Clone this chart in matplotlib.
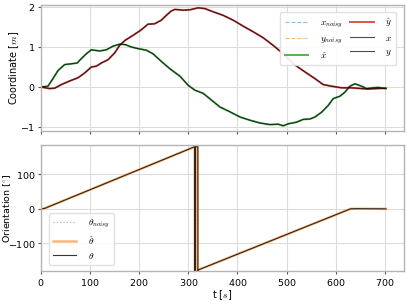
import numpy as np
import matplotlib
matplotlib.use("Agg")
import matplotlib.pyplot as plt

plt.rcParams['mathtext.fontset'] = 'cm'
plt.rcParams['axes.formatter.use_mathtext'] = True
plt.rcParams['font.family'] = ['DejaVu Sans']

# ---- data: position ----
t_x = [0, 14.2, 24.4, 34.6, 48.2, 61.7, 73.9, 82.1, 92.3, 102.5, 119.4, 133, 146.5, 160, 171.6,
       183.8, 197.4, 214.4, 228, 245, 262, 282.9, 299.8, 313.4, 330.3, 347.3, 364.3, 384.6, 405,
       425.3, 445.7, 466, 483, 493.1, 503.3, 520.3, 533.8, 547.4, 557.6, 571.2, 584.7, 594.9,
       608.5, 618.6, 628.8, 639, 652.6, 662.8, 676.3, 686.5, 702]
x_vals = [0, 0.02, 0.21, 0.41, 0.56, 0.58, 0.6, 0.71, 0.83, 0.93, 0.9, 0.93, 1.02, 1.07, 1.06,
          1.0, 0.96, 0.92, 0.83, 0.64, 0.46, 0.27, 0.04, -0.08, -0.16, -0.33, -0.5, -0.62, -0.75,
          -0.83, -0.9, -0.94, -0.93, -0.97, -0.92, -0.88, -0.81, -0.8, -0.75, -0.63, -0.46, -0.29,
          -0.23, -0.13, 0.02, 0.08, 0.02, -0.04, -0.02, -0.01, -0.04]
t_y = [0, 17.6, 27.8, 41.4, 58.3, 75.3, 88.9, 102.5, 112.6, 122.8, 136.3, 149.9, 160, 171.6,
       187.2, 204.2, 217.7, 231.3, 244.9, 255, 265.2, 272.7, 289.6, 303.2, 320.1, 333.7, 350.6,
       371, 391.3, 411.7, 432, 452.4, 472.7, 493.1, 513.4, 537, 557.6, 574.5, 591.5, 611.9,
       632.2, 652.6, 666, 683, 702]
y_vals = [0, -0.04, -0.03, 0.06, 0.15, 0.23, 0.35, 0.5, 0.52, 0.6, 0.68, 0.85, 1.04, 1.17,
          1.29, 1.43, 1.57, 1.58, 1.67, 1.79, 1.9, 1.94, 1.92, 1.93, 1.98, 1.96, 1.88,
          1.79, 1.67, 1.52, 1.38, 1.23, 1.04, 0.83, 0.58, 0.38, 0.21, 0.06, 0.02, -0.02,
          -0.02, -0.04, -0.05, -0.04, -0.03]

# ---- data: orientation ----
t_th = [0, 8, 12, 313, 313.1, 314.2, 314.3, 319.3, 319.4, 320, 630, 640, 702]
th_vals = [0, 1.5, 4, 180, -180, -180, 180, 180, -180, -177, 0, 0.5, 0]
t_th_hat = [0, 8, 12, 313, 313.1, 316.5, 316.6, 318.5, 318.6, 320, 630, 640, 702]
th_hat_vals = [0, 1.5, 4, 180, -180, -180, 180, 180, -180, -177, 0, 0.5, 0]

fig = plt.figure(figsize=(4.07, 3.01), dpi=100)
ax1 = fig.add_axes([0.1007, 0.5648, 0.892, 0.4186])
ax2 = fig.add_axes([0.1007, 0.0997, 0.892, 0.4186], sharex=ax1)

for ax in (ax1, ax2):
    ax.set_facecolor('white')
    ax.grid(True, color='#dcdcdc', lw=0.8)
    ax.set_axisbelow(True)
    for s in ax.spines.values():
        s.set_color('#b4b4b4')
        s.set_linewidth(1.0)
    ax.tick_params(labelsize=6.8, length=2.5, width=0.8, color='#555555', pad=1.5)

ax1.plot(t_x, x_vals, ls='--', color='#8fc0e6', lw=0.8, label=r'$x_{noisy}$')
ax1.plot(t_y, y_vals, ls='--', color='#fdba80', lw=0.8, label=r'$y_{noisy}$')
ax1.plot(t_x, x_vals, color='tab:green', lw=1.4, alpha=0.8, label=r'$\hat{x}$')
ax1.plot(t_y, y_vals, color='tab:red', lw=1.4, alpha=0.8, label=r'$\hat{y}$')
ax1.plot(t_x, x_vals, color='black', lw=0.8, alpha=0.7, label=r'$x$')
ax1.plot(t_y, y_vals, color='black', lw=0.8, alpha=0.7, label=r'$y$')
ax1.set_ylim(-1.1, 2.05)
ax1.set_yticks([-1, 0, 1, 2])
ax1.set_ylabel(r'Coordinate [$m$]', fontsize=7)
ax1.yaxis.set_label_coords(-0.054, 0.5)
plt.setp(ax1.get_xticklabels(), visible=False)
ax1.legend(loc='upper right', ncol=2, fontsize=6.8, frameon=True, fancybox=True,
           framealpha=0.9, edgecolor='#dddddd', borderpad=0.45, labelspacing=0.45,
           handlelength=2.5, columnspacing=0.8, handletextpad=1.2,
           bbox_to_anchor=(0.992, 0.978))

ax2.plot(t_th, th_vals, ls=':', color='#8fc0e6', lw=0.9, label=r'$\theta_{noisy}$')
ax2.plot(t_th_hat, th_hat_vals, color='#fdae6b', lw=1.8, alpha=0.9, label=r'$\hat{\theta}$')
ax2.plot(t_th, th_vals, color='black', lw=0.8, alpha=0.8, label=r'$\theta$')
ax2.set_ylim(-180, 185)
ax2.set_yticks([-100, 0, 100])
ax2.set_xlim(0, 739)
ax2.set_xticks([0, 100, 200, 300, 400, 500, 600, 700])
ax2.set_ylabel(r'Orientation [$^{\circ}$]', fontsize=6.8)
ax2.yaxis.set_label_coords(-0.077, 0.5)
ax2.set_xlabel(r't [$s$]', fontsize=7, labelpad=0.5)
ax2.legend(loc='lower left', fontsize=6.8, frameon=True, fancybox=True, framealpha=0.9,
           edgecolor='#dddddd', borderpad=0.45, labelspacing=0.45, handlelength=2.5,
           handletextpad=1.2, bbox_to_anchor=(0.008, 0.01))

fig.savefig('out.png', dpi=100, facecolor='white')
